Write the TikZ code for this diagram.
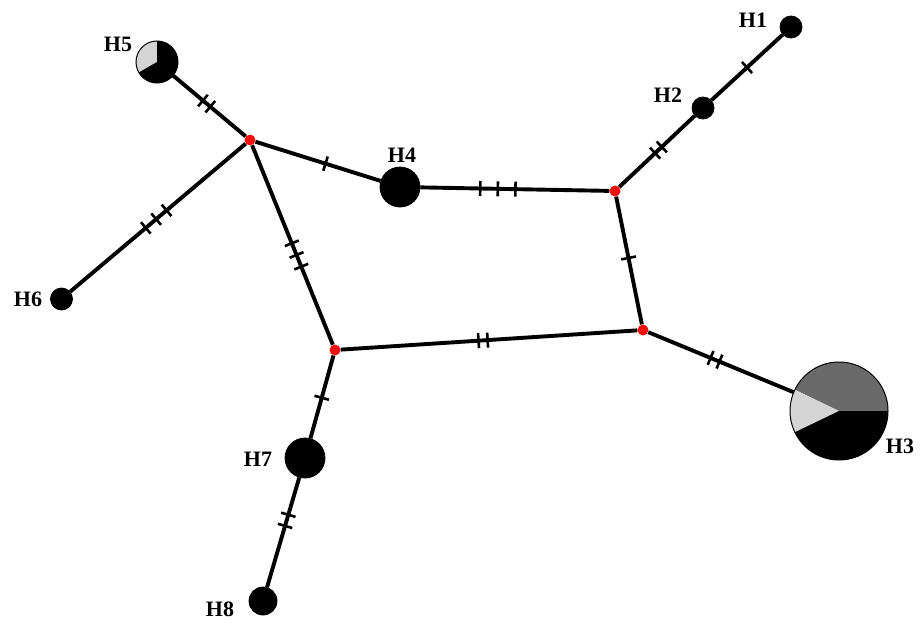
\documentclass[tikz,border=0pt]{standalone}
\usepackage{fontspec}
\setmainfont{Liberation Serif}
\newcommand{\tk}{\rule{2.6pt}{15pt}}
\newcommand{\tktwo}[1]{\tk\hspace{#1}\tk}
\newcommand{\tkthree}[1]{\tk\hspace{#1}\tk\hspace{#1}\tk}
\definecolor{pdark}{HTML}{6A6A6A}
\definecolor{plight}{HTML}{D4D4D4}
\definecolor{medred}{HTML}{F01010}
\begin{document}
\begin{tikzpicture}[x=1pt,y=1pt,
  edge/.style={line width=3.9pt},
  hap/.style={circle, fill=black, draw=black, line width=0.8pt, inner sep=0pt},
  med/.style={circle, fill=medred, inner sep=0pt, minimum size=11pt},
  lbl/.style={font=\fontsize{22}{26}\selectfont\bfseries, inner sep=0pt},
  tks/.style={sloped, inner sep=0pt, pos=#1}]
\useasboundingbox (0,0) rectangle (920,-626);
% haplotypes
\node[hap, minimum size=22pt] (H1) at (791,-27) {};
\node[hap, minimum size=22pt] (H2) at (703,-108) {};
\node[hap, minimum size=98pt, fill=none, draw=none] (H3) at (839,-411) {};
\node[hap, minimum size=40pt] (H4) at (400,-187) {};
\node[hap, minimum size=42pt, fill=none, draw=none] (H5) at (157,-62) {};
\node[hap, minimum size=22pt] (H6) at (61.5,-299) {};
\node[hap, minimum size=40pt] (H7) at (305,-458) {};
\node[hap, minimum size=28pt] (H8) at (263,-601) {};
% median vectors
\node[med] (M1) at (250,-140) {};
\node[med] (M2) at (615,-191) {};
\node[med] (M3) at (643,-330) {};
\node[med] (M4) at (335,-350) {};
% pies
\fill[pdark] (H3.center) -- +(0:49pt) arc[start angle=0, end angle=154.3, radius=49pt] -- cycle;
\fill[plight] (H3.center) -- +(154.3:49pt) arc[start angle=154.3, end angle=205.7, radius=49pt] -- cycle;
\fill[black] (H3.center) -- +(205.7:49pt) arc[start angle=205.7, end angle=360, radius=49pt] -- cycle;
\draw[line width=1pt] (H3.center) circle[radius=49pt];
\fill[plight] (H5.center) -- +(90:21pt) arc[start angle=90, end angle=210, radius=21pt] -- cycle;
\fill[black] (H5.center) -- +(210:21pt) arc[start angle=210, end angle=450, radius=21pt] -- cycle;
\draw[line width=1pt] (H5.center) circle[radius=21pt];
% connectors
\draw[edge] (H1) -- (H2) node[tks=0.5]{\tk};
\draw[edge] (H2) -- (M2) node[tks=0.48]{\tktwo{6.5pt}};
\draw[edge] (H4) -- (M2) node[tks=0.41]{\tkthree{15pt}};
\draw[edge] (M1) -- (H4) node[tks=0.56]{\tk};
\draw[edge] (M1) -- (H5) node[tks=0.54]{\tktwo{7pt}};
\draw[edge] (M1) -- (H6) node[tks=0.51]{\tkthree{11pt}};
\draw[edge] (M1) -- (M4) node[tks=0.55]{\tkthree{10pt}};
\draw[edge] (M4) -- (M3) node[tks=0.48]{\tktwo{6.5pt}};
\draw[edge] (M2) -- (M3) node[tks=0.48]{\tk};
\draw[edge] (M3) -- (H3) node[tks=0.46]{\tktwo{7pt}};
\draw[edge] (M4) -- (H7) node[tks=0.51]{\tk};
\draw[edge] (H7) -- (H8) node[tks=0.39]{\tktwo{9pt}};
% labels
\node[lbl] (L1) at (753,-20) {H1};
\node[lbl] (L2) at (668,-95) {H2};
\node[lbl] (L3) at (900,-446) {H3};
\node[lbl] (L4) at (402,-155) {H4};
\node[lbl] (L5) at (118,-44) {H5};
\node[lbl] (L6) at (28,-299) {H6};
\node[lbl] (L7) at (258,-459) {H7};
\node[lbl] (L8) at (220,-609) {H8};
\end{tikzpicture}
\end{document}
